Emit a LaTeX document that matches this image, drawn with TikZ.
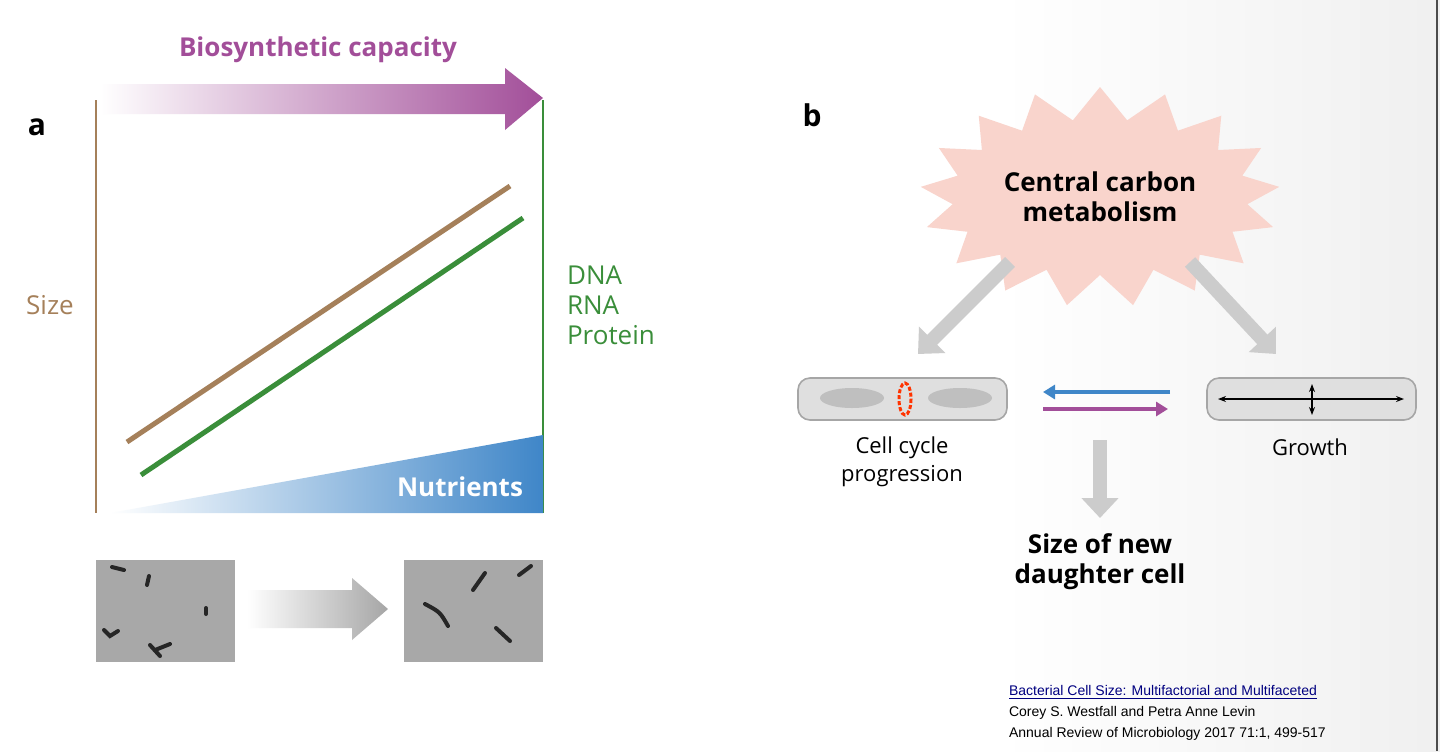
\documentclass[tikz,border=0pt]{standalone}
\usepackage{fontspec}
\setmainfont{Open Sans}
\newfontfamily\citefnt{Liberation Sans}
\usetikzlibrary{shapes.symbols,arrows.meta}
\definecolor{pur}{HTML}{A24E99}
\definecolor{blu}{HTML}{3F86C8}
\definecolor{brn}{HTML}{A5805A}
\definecolor{grn}{HTML}{3A8E3A}
\definecolor{pink}{HTML}{F9D4CC}
\definecolor{micro}{HTML}{A8A8A8}
\begin{document}
\begin{tikzpicture}[x=0.5pt,y=-0.5pt,
  lab/.style={font=\fontsize{13}{15}\selectfont},
  bold/.style={font=\bfseries\fontsize{13}{15}\selectfont},
  cell/.style={draw=gray!70,fill=gray!25,rounded corners=6pt,line width=0.8pt},
  rod/.style={line width=2pt,gray!30!black,line cap=round},
  bigarr/.style={-{Triangle[length=10pt,width=18pt]},line width=7pt,gray!40}]
\useasboundingbox (0,0) rectangle (1440,751);
\fill[white] (0,0) rectangle (1440,751);
\shade[left color=white,right color=gray!12] (1000,0) rectangle (1440,751);
\draw[gray!60!black,line width=1pt] (1437,0) -- (1437,751);
% panel a
\node[bold,font=\bfseries\fontsize{15}{17}\selectfont] (a) at (37,127) {a};
\shade[left color=white,right color=pur] (100,84) -- (505,84) -- (505,68) -- (543,98) -- (505,130) -- (505,114) -- (100,114) -- cycle;
\node[bold,text=pur] (bio) at (318,50) {Biosynthetic capacity};
\draw[brn,line width=1pt] (96,100) -- (96,513);
\draw[grn,line width=1pt] (543,100) -- (543,513);
\shade[left color=white,right color=blu] (110,513) -- (543,435) -- (543,513) -- cycle;
\node[bold,text=white] (nut) at (460,487) {Nutrients};
\draw[brn,line width=2.5pt] (127,442) -- (510,186);
\draw[grn,line width=2.5pt] (141,475) -- (523,218);
\node[lab,text=brn] (size) at (50,305) {Size};
\node[lab,text=grn,anchor=west,align=left] (dna) at (560,305) {DNA\\RNA\\Protein};
% micrographs
\fill[micro] (96,560) rectangle (235,662);
\fill[micro] (404,560) rectangle (543,662);
\draw[rod] (112,567) -- (124,570);
\draw[rod] (149,576) -- (147,585);
\draw[rod] (206,608) -- (206,614);
\draw[rod] (104,630) -- (110,636) -- (118,631);
\draw[rod] (150,645) -- (160,656);
\draw[rod] (155,650) -- (170,644);
\draw[rod] (473,590) -- (485,573);
\draw[rod] (519,575) -- (531,566);
\draw[rod] (425,604) .. controls (440,612) .. (448,626);
\draw[rod] (496,628) -- (510,641);
\shade[left color=white,right color=gray!70] (247,590) -- (352,590) -- (352,578) -- (388,609) -- (352,640) -- (352,628) -- (247,628) -- cycle;
% panel b
\node[bold,font=\bfseries\fontsize{15}{17}\selectfont] (b) at (812,115) {b};
\node[starburst,starburst points=17,random starburst=0,fill=pink,minimum width=180pt,minimum height=110pt,starburst point height=16pt] (ccm) at (1100,197) {};
\node[bold,align=center] (ccmt) at (1100,197) {Central carbon\\metabolism};
\coordinate (s1) at (1010,262);
\coordinate (e1) at (918,354);
\coordinate (s2) at (1190,262);
\coordinate (e2) at (1276,354);
\draw[bigarr] (s1) -- (e1);
\draw[bigarr] (s2) -- (e2);
\draw[cell] (798,378) rectangle (1007,420);
\fill[gray!50] (852,398) ellipse (32 and 10);
\fill[gray!50] (960,398) ellipse (32 and 10);
\draw[red!60!orange,line width=1.5pt,dash pattern=on 2pt off 1pt] (905,399) ellipse (6 and 16);
\draw[cell] (1207,378) rectangle (1416,420);
\draw[{Stealth[length=4pt]}-{Stealth[length=4pt]},line width=0.6pt] (1218,399) -- (1404,399);
\draw[{Stealth[length=4pt]}-{Stealth[length=4pt]},line width=0.6pt] (1312,384) -- (1312,415);
\coordinate (bl1) at (1170,392);
\coordinate (bl2) at (1043,392);
\coordinate (pu1) at (1043,409);
\coordinate (pu2) at (1168,409);
\draw[-{Triangle[length=6pt,width=7pt]},blu,line width=1.6pt] (bl1) -- (bl2);
\draw[-{Triangle[length=6pt,width=7pt]},pur,line width=1.6pt] (pu1) -- (pu2);
\coordinate (d1) at (1100,440);
\coordinate (d2) at (1100,518);
\draw[bigarr] (d1) -- (d2);
\node[lab,font=\fontsize{11}{14}\selectfont,align=center] (ccp) at (902,462) {Cell cycle\\progression};
\node[lab,font=\fontsize{11}{14}\selectfont] (gro) at (1310,447) {Growth};
\node[bold,align=center] (sz) at (1100,562) {Size of new\\daughter cell};
\node[anchor=west,font=\citefnt\fontsize{7}{8}\selectfont,text=blue!50!black] (c1) at (1002,692) {\underline{Bacterial Cell Size: Multifactorial and Multifaceted}};
\node[anchor=west,font=\citefnt\fontsize{7}{8}\selectfont] (c2) at (1002,713) {Corey S. Westfall and Petra Anne Levin};
\node[anchor=west,font=\citefnt\fontsize{7}{8}\selectfont] (c3) at (1002,734) {Annual Review of Microbiology 2017 71:1, 499-517};
\end{tikzpicture}
\end{document}
